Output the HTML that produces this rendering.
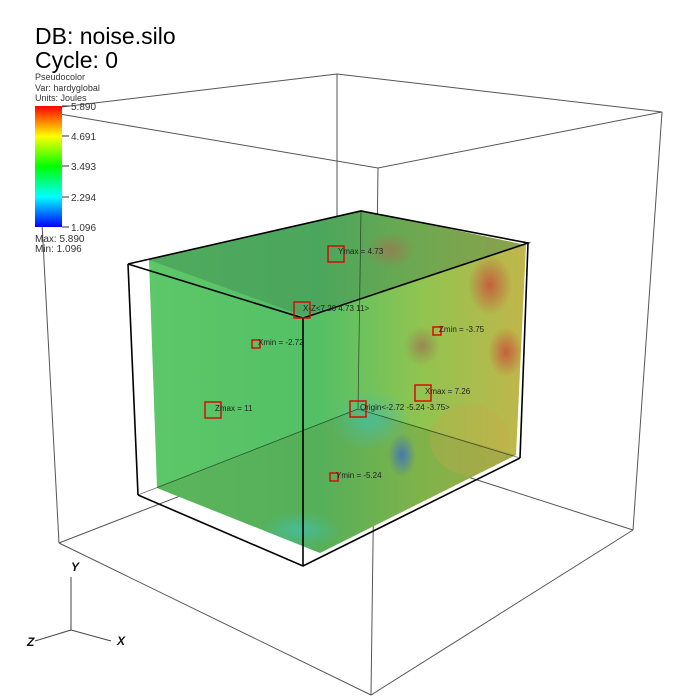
<!DOCTYPE html>
<html><head><meta charset="utf-8"><style>
html,body{margin:0;padding:0;background:#fff;}
svg{display:block;font-family:"Liberation Sans",sans-serif;}
</style></head><body>
<svg width="700" height="700" viewBox="0 0 700 700">
<defs>
<linearGradient id="cbar" x1="0" y1="1" x2="0" y2="0">
<stop offset="0" stop-color="#0000ff"/><stop offset="0.25" stop-color="#00ffff"/>
<stop offset="0.5" stop-color="#00ff00"/><stop offset="0.75" stop-color="#ffff00"/><stop offset="1" stop-color="#ff0000"/>
</linearGradient>
<linearGradient id="volg" x1="0" y1="0" x2="1" y2="0">
<stop offset="0" stop-color="#5cc868"/><stop offset="0.45" stop-color="#54c066"/>
<stop offset="0.7" stop-color="#90c450"/><stop offset="1" stop-color="#c8b44a"/>
</linearGradient>
<radialGradient id="spotR"><stop offset="0" stop-color="#c8503a" stop-opacity="0.85"/><stop offset="1" stop-color="#c8503a" stop-opacity="0"/></radialGradient>
<radialGradient id="spotB"><stop offset="0" stop-color="#3a6ac8" stop-opacity="0.8"/><stop offset="1" stop-color="#3a6ac8" stop-opacity="0"/></radialGradient>
<radialGradient id="spotBr"><stop offset="0" stop-color="#9a7a50" stop-opacity="0.8"/><stop offset="1" stop-color="#9a7a50" stop-opacity="0"/></radialGradient>
<radialGradient id="spotC"><stop offset="0" stop-color="#40c0b0" stop-opacity="0.7"/><stop offset="1" stop-color="#40c0b0" stop-opacity="0"/></radialGradient>
<clipPath id="volclip"><polygon points="149,260 361,210 526,245 516,455 320,553 157,488"/></clipPath>
</defs>

<!-- title -->
<text x="35" y="44" font-size="23" fill="#000">DB: noise.silo</text>
<text x="35" y="68" font-size="23" fill="#000">Cycle: 0</text>

<!-- outer bounding box -->
<g stroke="#555" stroke-width="1" fill="none">
<polyline points="36,110 337,74 662,112 378,168 36,110"/>
<line x1="36" y1="110" x2="59" y2="543"/>
<line x1="378" y1="168" x2="371" y2="695"/>
<line x1="662" y1="112" x2="633" y2="530"/>
<line x1="337" y1="74" x2="337" y2="435"/>
<polyline points="59,543 371,695 633,530"/>
<polyline points="59,543 337,435 633,530"/>
</g>

<!-- volume -->
<g clip-path="url(#volclip)">
<rect x="140" y="200" width="400" height="360" fill="url(#volg)"/>
<polygon points="149,260 361,210 526,245 303,316" fill="#3f7f50" opacity="0.4"/>
<polygon points="157,488 358,409 516,455 320,553" fill="#5a8a40" opacity="0.3"/>
<ellipse cx="390" cy="250" rx="25" ry="18" fill="url(#spotBr)"/>
<ellipse cx="490" cy="285" rx="22" ry="30" fill="url(#spotR)"/>
<ellipse cx="506" cy="352" rx="18" ry="25" fill="url(#spotR)"/>
<ellipse cx="422" cy="346" rx="18" ry="20" fill="url(#spotBr)"/>
<ellipse cx="402" cy="455" rx="14" ry="22" fill="url(#spotB)"/>
<ellipse cx="370" cy="420" rx="40" ry="30" fill="url(#spotC)"/>
<ellipse cx="300" cy="530" rx="40" ry="18" fill="url(#spotC)"/>
<ellipse cx="470" cy="440" rx="40" ry="35" fill="#c8a848" opacity="0.3"/>
</g>

<!-- inner box -->
<g stroke="#000" fill="none">
<g stroke-width="0.8" opacity="0.55">
<line x1="138" y1="495" x2="358" y2="409"/>
<line x1="358" y1="409" x2="520" y2="458"/>
<line x1="361" y1="211" x2="358" y2="409"/>
</g>
<g stroke-width="1.6">
<polyline points="128,264 361,211 528,243 303,318 128,264"/>
<line x1="128" y1="264" x2="138" y2="495"/>
<line x1="303" y1="318" x2="303" y2="566"/>
<line x1="528" y1="243" x2="520" y2="458"/>
<polyline points="138,495 303,566 520,458"/>
</g>
</g>

<!-- markers -->
<g fill="none" stroke="#e00000" stroke-width="1.4">
<rect x="328" y="246" width="16" height="16"/>
<rect x="294" y="302" width="16" height="16"/>
<rect x="252" y="340" width="8" height="8"/>
<rect x="433" y="327" width="8" height="8"/>
<rect x="415" y="385" width="16" height="16"/>
<rect x="350" y="401" width="16" height="16"/>
<rect x="205" y="402" width="16" height="16"/>
<rect x="330" y="473" width="8" height="8"/>
</g>
<g font-size="8" fill="#222">
<text x="338" y="254">Ymax = 4.73</text>
<text x="303" y="311">X-Z&lt;7.26 4.73 11&gt;</text>
<text x="258" y="345">Xmin = -2.72</text>
<text x="439" y="332">Zmin = -3.75</text>
<text x="425" y="394">Xmax = 7.26</text>
<text x="360" y="410">Origin&lt;-2.72 -5.24 -3.75&gt;</text>
<text x="215" y="411">Zmax = 11</text>
<text x="336" y="478">Ymin = -5.24</text>
</g>

<!-- legend -->
<g>
<text x="35" y="80" font-size="9" fill="#333">Pseudocolor</text>
<text x="35" y="91" font-size="9" fill="#333">Var: hardyglobal</text>
<text x="35" y="101" font-size="9" fill="#333">Units: Joules</text>
<rect x="35" y="106" width="27" height="121" fill="url(#cbar)"/>
<g stroke="#333" stroke-width="1">
<line x1="62" y1="106" x2="69" y2="106"/><line x1="62" y1="136" x2="69" y2="136"/>
<line x1="62" y1="166" x2="69" y2="166"/><line x1="62" y1="197" x2="69" y2="197"/>
<line x1="62" y1="227" x2="69" y2="227"/>
</g>
<g font-size="10" fill="#333">
<text x="71" y="110">5.890</text><text x="71" y="140">4.691</text>
<text x="71" y="170">3.493</text><text x="71" y="201">2.294</text>
<text x="71" y="231">1.096</text>
<text x="35" y="242">Max:  5.890</text>
<text x="35" y="252">Min:  1.096</text>
</g>
</g>

<!-- triad -->
<g stroke="#444" stroke-width="1">
<line x1="71" y1="630" x2="71" y2="577"/>
<line x1="71" y1="630" x2="111" y2="641"/>
<line x1="71" y1="630" x2="35" y2="641"/>
</g>
<g font-size="12" font-style="italic" font-weight="bold" fill="#111">
<text x="71" y="571">Y</text>
<text x="117" y="645">X</text>
<text x="27" y="646">Z</text>
</g>
</svg>
</body></html>
